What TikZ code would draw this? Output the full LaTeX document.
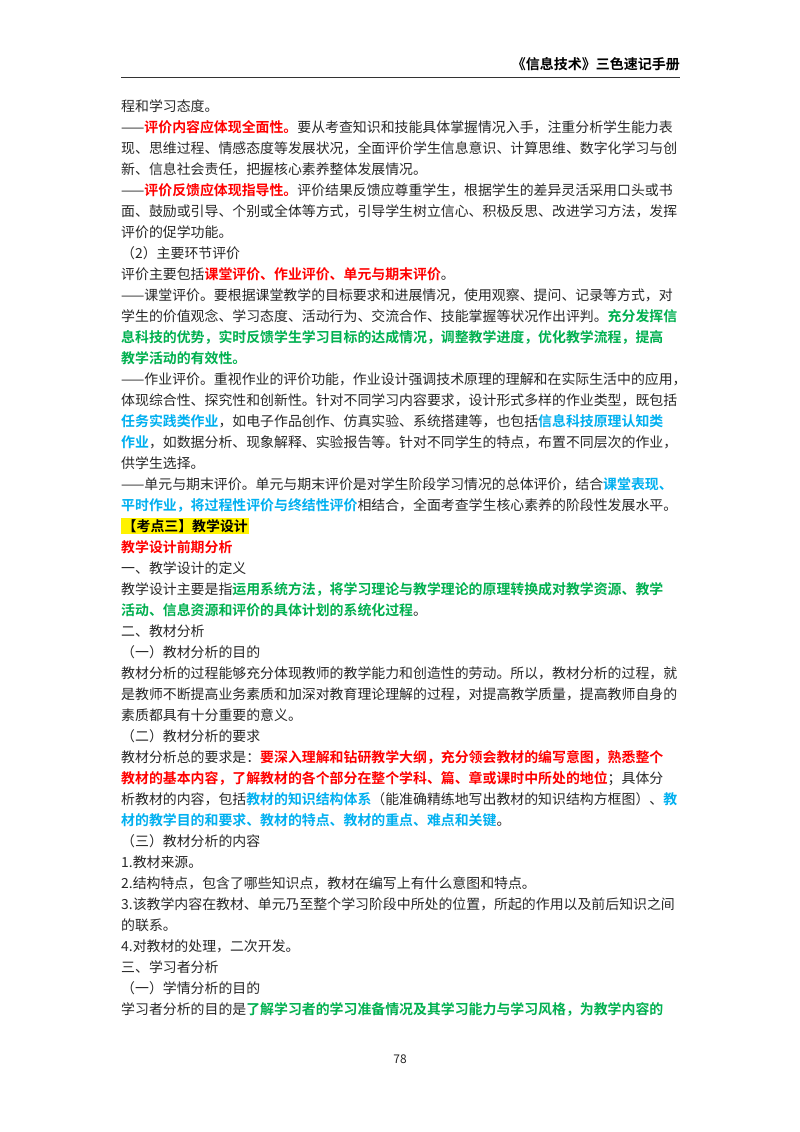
\documentclass[tikz,border=0pt]{standalone}
\usepackage{fontspec}
\setmainfont{Noto Sans CJK SC}[BoldFont={* Bold}]
\XeTeXlinebreaklocale "zh"
\XeTeXlinebreakskip=0pt plus 3pt
\definecolor{txt}{RGB}{40,40,40}
\definecolor{cr}{RGB}{255,0,0}
\definecolor{cg}{RGB}{0,176,80}
\definecolor{cb}{RGB}{0,176,240}
\newcommand{\hr}[1]{{\bfseries\color{cr}#1}}
\newcommand{\hg}[1]{{\bfseries\color{cg}#1}}
\newcommand{\hb}[1]{{\bfseries\color{cb}#1}}
\newcommand{\fl}[2]{\node[ln] (f#1) at (121,{111+21*#1}) {\makebox[559bp][s]{#2}};}
\newcommand{\el}[2]{\node[ln] (e#1) at (121,{111+21*#1}) {#2};}
\begin{document}
\begin{tikzpicture}[x=1bp,y=-1bp,
  ln/.style={anchor=base west,inner sep=0pt,text=txt,font=\fontsize{13.9bp}{16bp}\selectfont}]
\useasboundingbox[fill=white] (0,0) rectangle (800,1132);
\node[anchor=base east,inner sep=0pt,font=\fontsize{14bp}{16bp}\selectfont\bfseries] (hdr) at (680,69) {《信息技术》三色速记手册};
\coordinate (r1) at (121,77); \coordinate (r2) at (680,77);
\draw[line width=1bp,black!80] (r1) -- (r2);
\el{0}{程和学习态度。}
\fl{1}{——\hr{评价内容应体现全面性。}要从考查知识和技能具体掌握情况入手，注重分析学生能力表}
\fl{2}{现、思维过程、情感态度等发展状况，全面评价学生信息意识、计算思维、数字化学习与创}
\el{3}{新、信息社会责任，把握核心素养整体发展情况。}
\fl{4}{——\hr{评价反馈应体现指导性。}评价结果反馈应尊重学生，根据学生的差异灵活采用口头或书}
\fl{5}{面、鼓励或引导、个别或全体等方式，引导学生树立信心、积极反思、改进学习方法，发挥}
\el{6}{评价的促学功能。}
\el{7}{（2）主要环节评价}
\el{8}{评价主要包括\hr{课堂评价、作业评价、单元与期末评价}。}
\fl{9}{——课堂评价。要根据课堂教学的目标要求和进展情况，使用观察、提问、记录等方式，对}
\fl{10}{学生的价值观念、学习态度、活动行为、交流合作、技能掌握等状况作出评判。\hg{充分发挥信}}
\fl{11}{\hg{息科技的优势，实时反馈学生学习目标的达成情况，调整教学进度，优化教学流程，提高}}
\el{12}{\hg{教学活动的有效性。}}
\fl{13}{——作业评价。重视作业的评价功能，作业设计强调技术原理的理解和在实际生活中的应用，}
\fl{14}{体现综合性、探究性和创新性。针对不同学习内容要求，设计形式多样的作业类型，既包括}
\fl{15}{\hb{任务实践类作业}，如电子作品创作、仿真实验、系统搭建等，也包括\hb{信息科技原理认知类}}
\fl{16}{\hb{作业}，如数据分析、现象解释、实验报告等。针对不同学生的特点，布置不同层次的作业，}
\el{17}{供学生选择。}
\fl{18}{——单元与期末评价。单元与期末评价是对学生阶段学习情况的总体评价，结合\hb{课堂表现、}}
\fl{19}{\hb{平时作业，将过程性评价与终结性评价}相结合，全面考查学生核心素养的阶段性发展水平。}
\node[ln,fill=yellow,inner sep=1.5bp] (e20) at (121,531) {\bfseries\color{black}【考点三】教学设计};
\el{21}{\hr{教学设计前期分析}}
\el{22}{一、教学设计的定义}
\fl{23}{教学设计主要是指\hg{运用系统方法，将学习理论与教学理论的原理转换成对教学资源、教学}}
\el{24}{\hg{活动、信息资源和评价的具体计划的系统化过程}。}
\el{25}{二、教材分析}
\el{26}{（一）教材分析的目的}
\fl{27}{教材分析的过程能够充分体现教师的教学能力和创造性的劳动。所以，教材分析的过程，就}
\fl{28}{是教师不断提高业务素质和加深对教育理论理解的过程，对提高教学质量，提高教师自身的}
\el{29}{素质都具有十分重要的意义。}
\el{30}{（二）教材分析的要求}
\fl{31}{教材分析总的要求是：\hr{要深入理解和钻研教学大纲，充分领会教材的编写意图，熟悉整个}}
\fl{32}{\hr{教材的基本内容，了解教材的各个部分在整个学科、篇、章或课时中所处的地位}；具体分}
\fl{33}{析教材的内容，包括\hb{教材的知识结构体系}（能准确精练地写出教材的知识结构方框图）、\hb{教}}
\el{34}{\hb{材的教学目的和要求、教材的特点、教材的重点、难点和关键}。}
\el{35}{（三）教材分析的内容}
\el{36}{1.教材来源。}
\el{37}{2.结构特点，包含了哪些知识点，教材在编写上有什么意图和特点。}
\fl{38}{3.该教学内容在教材、单元乃至整个学习阶段中所处的位置，所起的作用以及前后知识之间}
\el{39}{的联系。}
\el{40}{4.对教材的处理，二次开发。}
\el{41}{三、学习者分析}
\el{42}{（一）学情分析的目的}
\fl{43}{学习者分析的目的是\hg{了解学习者的学习准备情况及其学习能力与学习风格，为教学内容的}}
\node[anchor=base,inner sep=0pt,text=txt,font=\fontsize{12bp}{14bp}\selectfont] (pg) at (400,1063) {78};
\end{tikzpicture}
\end{document}
